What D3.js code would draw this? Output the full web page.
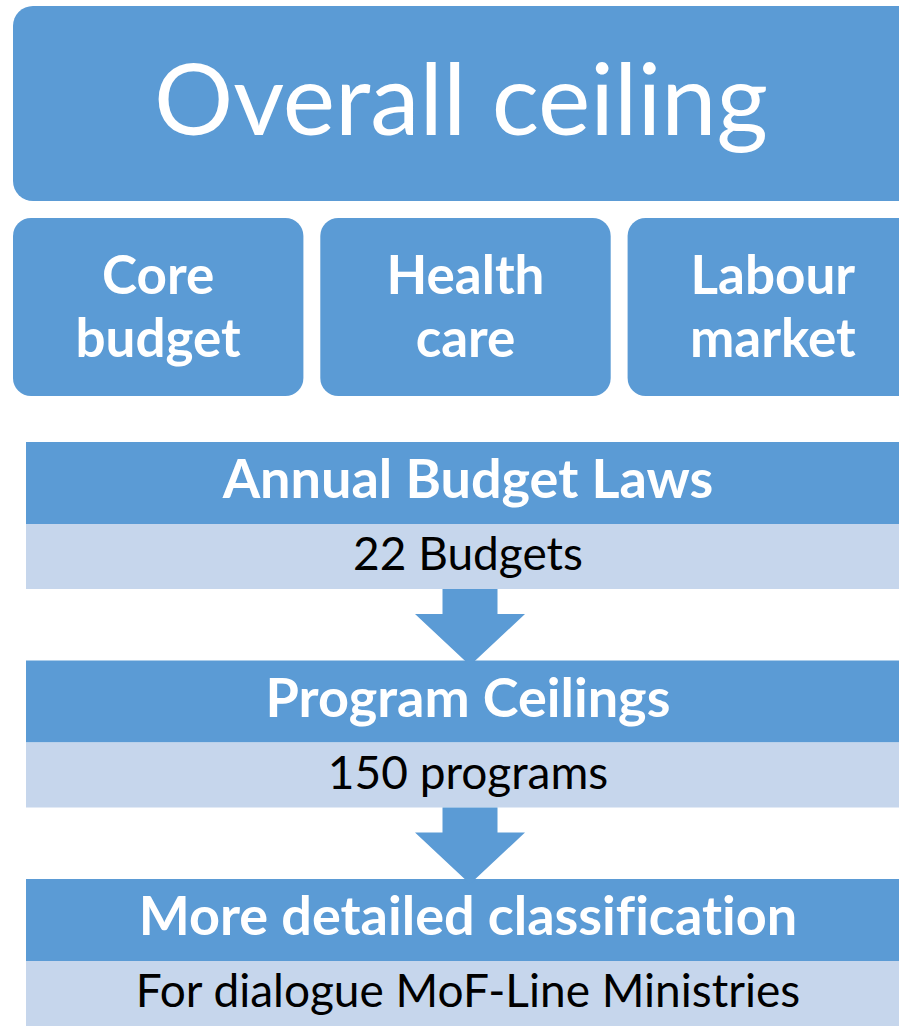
<!DOCTYPE html>
<html>
<head>
<meta charset="utf-8">
<script src="https://cdn.jsdelivr.net/npm/d3@7"></script>
<style>
  body { margin: 0; background: #fff; overflow: hidden; }
  text { font-family: Lato, "Open Sans", sans-serif; font-variant-ligatures: none; }
</style>
</head>
<body>
<svg id="chart" width="899" height="1029"></svg>
<script>
// chart content
const title = "Overall ceiling";
const categories = [["Core", "budget"], ["Health", "care"], ["Labour", "market"]];
const stages = ["Annual Budget Laws", "Program Ceilings", "More detailed classification"];
const stageNotes = ["22 Budgets", "150 programs", "For dialogue MoF-Line Ministries"];

const W = 899, H = 1029;
const dark = "#5b9bd5", light = "#c6d6ec";

const svg = d3.select("#chart");

// top box
svg.append("rect")
  .attr("x", 13).attr("y", 6)
  .attr("width", 915).attr("height", 195)
  .attr("rx", 20)
  .attr("fill", dark);

svg.append("text")
  .attr("x", 461).attr("y", 135)
  .attr("text-anchor", "middle")
  .attr("fill", "#fff")
  .attr("font-size", 99)
  .text(title);

// three category boxes
const x = d3.scaleBand()
  .domain(d3.range(categories.length))
  .range([13, 918])
  .paddingInner(0.055);

const boxes = svg.selectAll("g.cat")
  .data(categories)
  .enter()
  .append("g")
  .attr("class", "cat");

boxes.append("rect")
  .attr("x", (d, i) => x(i))
  .attr("y", 218)
  .attr("width", x.bandwidth())
  .attr("height", 178)
  .attr("rx", 18)
  .attr("fill", dark);

boxes.append("text")
  .attr("text-anchor", "middle")
  .attr("fill", "#fff")
  .attr("font-size", 53)
  .attr("font-weight", "bold")
  .selectAll("tspan")
  .data((d, i) => d.map(line => ({ line, i })))
  .enter()
  .append("tspan")
  .attr("x", d => x(d.i) + x.bandwidth() / 2)
  .attr("y", (d, j) => 294 + j * 63)
  .text(d => d.line);

// stacked stage bars
const y = d3.scaleBand()
  .domain(stages)
  .range([442, 442 + 218.5 * stages.length]);

const darkH = 82, lightH = 65;
const cx = 468;

const rows = svg.selectAll("g.stage")
  .data(stages)
  .enter()
  .append("g")
  .attr("class", "stage");

rows.append("rect")
  .attr("x", 26).attr("y", d => y(d))
  .attr("width", W - 26).attr("height", darkH)
  .attr("fill", dark);

rows.append("rect")
  .attr("x", 26).attr("y", d => y(d) + darkH)
  .attr("width", W - 26).attr("height", lightH)
  .attr("fill", light);

rows.append("text")
  .attr("x", cx).attr("y", d => y(d) + 56)
  .attr("text-anchor", "middle")
  .attr("fill", "#fff")
  .attr("font-size", 54)
  .attr("font-weight", "bold")
  .text(d => d);

rows.append("text")
  .attr("x", cx).attr("y", (d, i) => y(d) + darkH + 46)
  .attr("text-anchor", "middle")
  .attr("fill", "#000")
  .attr("font-size", 46)
  .text((d, i) => stageNotes[i]);

// down arrows between stages
const ax = 470, shaftW = 27.5, headW = 55;
svg.selectAll("path.arrow")
  .data(stages.slice(0, -1))
  .enter()
  .append("path")
  .attr("class", "arrow")
  .attr("fill", dark)
  .attr("d", (d, i) => {
    const top = y(d) + darkH + lightH;
    const next = y(stages[i + 1]);
    const neck = top + 25;
    return `M${ax - shaftW},${top} L${ax + shaftW},${top} L${ax + shaftW},${neck}
            L${ax + headW},${neck} L${ax},${next + 5} L${ax - headW},${neck}
            L${ax - shaftW},${neck} Z`;
  });
</script>
</body>
</html>
